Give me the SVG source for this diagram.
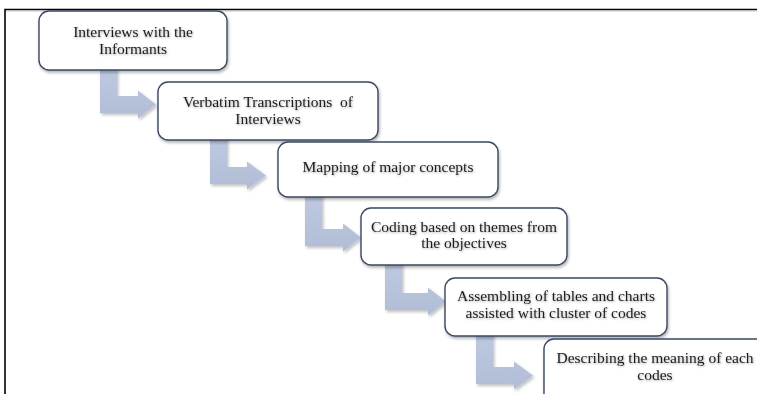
<svg xmlns="http://www.w3.org/2000/svg" width="757" height="394" viewBox="0 0 757 394">
<defs>
<filter id="boxShadow" x="-10%" y="-20%" width="125%" height="150%">
<feDropShadow dx="1" dy="2" stdDeviation="1.8" flood-color="#000" flood-opacity="0.3"/>
</filter>
<filter id="arrowShadow" x="-20%" y="-20%" width="150%" height="150%">
<feDropShadow dx="1.5" dy="2" stdDeviation="1.5" flood-color="#000" flood-opacity="0.25"/>
</filter>
<filter id="textShadow" x="-5%" y="-30%" width="110%" height="170%">
<feDropShadow dx="0.6" dy="1" stdDeviation="0.8" flood-color="#000" flood-opacity="0.35"/>
</filter>
<linearGradient id="arrowFill" x1="0" y1="0" x2="0" y2="1">
<stop offset="0" stop-color="#bfcae0"/>
<stop offset="1" stop-color="#b0bdd6"/>
</linearGradient>
</defs>
<style>
.box{fill:#ffffff;stroke:#3a4862;stroke-width:1.4;filter:url(#boxShadow)}
.arrow{fill:url(#arrowFill);stroke:none;filter:url(#arrowShadow)}
.label{font-family:"Liberation Serif","Times New Roman",serif;font-size:15.5px;fill:#1c1c1c;text-anchor:middle;filter:url(#textShadow)}
.frame{stroke:#000;stroke-width:1.6;fill:none}
</style>
<rect width="757" height="394" fill="#ffffff"/>
<path class="frame" d="M5 394 V9.5 H757"/>
<line x1="6" y1="11" x2="757" y2="11" stroke="#bdbdbd" stroke-width="1"/>
<g id="connectors">
<path class="arrow" d="M100 66 H117 V96 H138 V90.5 L156 104.5 L138 118.5 V113 H100 Z"/>
<path class="arrow" d="M210 136 H227 V167 H247 V161.5 L266 175.5 L247 189.5 V184 H210 Z"/>
<path class="arrow" d="M305 193 H322 V229 H343 V223.5 L361 237.5 L343 251.5 V246 H305 Z"/>
<path class="arrow" d="M385 261 H402 V293 H428 V287.5 L446 301.5 L428 315.5 V310 H385 Z"/>
<path class="arrow" d="M476 332 H493 V367 H514 V361.5 L533 375.5 L514 389.5 V384 H476 Z"/>
</g>
<g id="node1">
<rect class="box" x="39" y="11" width="188" height="59" rx="10"/>
<text class="label" x="133" y="37">Interviews with the</text>
<text class="label" x="133" y="54">Informants</text>
</g>
<g id="node2">
<rect class="box" x="158" y="82" width="220" height="58" rx="10"/>
<text class="label" x="268" y="107" xml:space="preserve">Verbatim Transcriptions  of</text>
<text class="label" x="268" y="124">Interviews</text>
</g>
<g id="node3">
<rect class="box" x="278" y="142" width="220" height="55" rx="10"/>
<text class="label" x="388" y="172">Mapping of major concepts</text>
</g>
<g id="node4">
<rect class="box" x="361" y="208" width="206" height="57" rx="10"/>
<text class="label" x="464" y="232">Coding based on themes from</text>
<text class="label" x="464" y="248">the objectives</text>
</g>
<g id="node5">
<rect class="box" x="445" y="278" width="222" height="58" rx="10"/>
<text class="label" x="556" y="301">Assembling of tables and charts</text>
<text class="label" x="556" y="318">assisted with cluster of codes</text>
</g>
<g id="node6">
<rect class="box" x="544" y="339" width="230" height="70" rx="10"/>
<text class="label" x="655" y="363">Describing the meaning of each</text>
<text class="label" x="655" y="380">codes</text>
</g>
</svg>
